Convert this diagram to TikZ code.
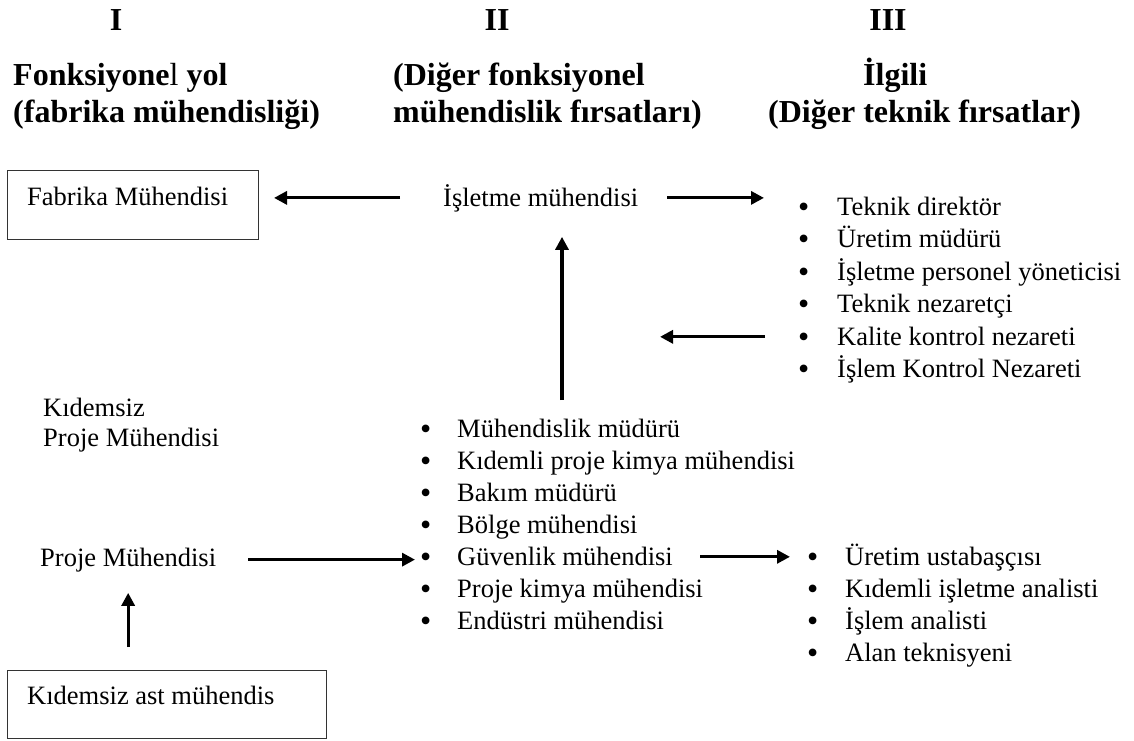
\documentclass[tikz,border=0pt]{standalone}
\usepackage{fontspec}
\setmainfont{Liberation Serif}
\usetikzlibrary{arrows.meta}
% bullet of a given box width, a little larger than the text bullet
\newcommand{\blt}[1]{\makebox[#1][l]{\raisebox{-2pt}{\fontsize{32}{32}\selectfont •}}}
\begin{document}
\begin{tikzpicture}[x=1pt,y=-1pt,
  hdr/.style={font=\fontsize{32}{37}\selectfont\bfseries, inner sep=0pt, anchor=base west},
  txt/.style={font=\fontsize{26.5}{30}\selectfont, inner sep=0pt, anchor=base west},
  frame/.style={draw=black!80, line width=1pt, inner sep=0pt, anchor=north west},
  arr/.style={-{Triangle[length=13pt,width=13pt]}, line width=3.2pt},
]
\useasboundingbox (0,0) rectangle (1134,740);

% column numerals
\node[hdr, anchor=base] (n1) at (116,30) {I};
\node[hdr, anchor=base] (n2) at (497,30) {II};
\node[hdr, anchor=base] (n3) at (888,30) {III};

% column headings
\node[hdr] (h1a) at (13,85) {Fonksiyone{\mdseries l} yol};
\node[hdr] (h1b) at (13,122) {(fabrika mühendisliği)};
\node[hdr] (h2a) at (393,85) {(Diğer fonksiyonel};
\node[hdr] (h2b) at (393,122) {mühendislik fırsatları)};
\node[hdr] (h3a) at (863,85) {İlgili};
\node[hdr] (h3b) at (768,122) {(Diğer teknik fırsatlar)};

% column I
\node[frame, minimum width=251pt, minimum height=69pt] (fab) at (7,170) {};
\node[txt] (fabt) at (27,205) {Fabrika Mühendisi};
\node[txt] (kp1) at (43,416) {Kıdemsiz};
\node[txt] (kp2) at (43,446) {Proje Mühendisi};
\node[txt] (pm) at (40,566) {Proje Mühendisi};
\node[frame, minimum width=319pt, minimum height=68pt] (ast) at (7,670) {};
\node[txt] (astt) at (27,704) {Kıdemsiz ast mühendis};

% column II
\node[txt] (isl) at (443,206) {İşletme mühendisi};
\node[txt] (m1) at (420,437) {\blt{37pt}Mühendislik müdürü};
\node[txt] (m2) at (420,469) {\blt{37pt}Kıdemli proje kimya mühendisi};
\node[txt] (m3) at (420,501) {\blt{37pt}Bakım müdürü};
\node[txt] (m4) at (420,533) {\blt{37pt}Bölge mühendisi};
\node[txt] (m5) at (420,565) {\blt{37pt}Güvenlik mühendisi};
\node[txt] (m6) at (420,597) {\blt{37pt}Proje kimya mühendisi};
\node[txt] (m7) at (420,629) {\blt{37pt}Endüstri mühendisi};

% column III
\node[txt] (t1) at (798,215) {\blt{39pt}Teknik direktör};
\node[txt] (t2) at (798,247.5) {\blt{39pt}Üretim müdürü};
\node[txt] (t3) at (798,280) {\blt{39pt}İşletme personel yöneticisi};
\node[txt] (t4) at (798,312.5) {\blt{39pt}Teknik nezaretçi};
\node[txt] (t5) at (798,345) {\blt{39pt}Kalite kontrol nezareti};
\node[txt] (t6) at (798,377.5) {\blt{39pt}İşlem Kontrol Nezareti};
\node[txt] (u1) at (807,565) {\blt{38pt}Üretim ustabaşçısı};
\node[txt] (u2) at (807,597) {\blt{38pt}Kıdemli işletme analisti};
\node[txt] (u3) at (807,629) {\blt{38pt}İşlem analisti};
\node[txt] (u4) at (807,661) {\blt{38pt}Alan teknisyeni};

% arrows
\coordinate (vb) at (562,400);
\draw[arr, shorten <=43pt, shorten >=15pt] (isl.west) -- (isl.west -| fab.east);
\draw[arr, shorten <=29pt, shorten >=34pt] (isl.east) -- (isl.east -| t1.west);
\draw[arr, shorten >=25pt] (vb) -- (vb |- isl.south);
\draw[arr, shorten <=33pt, shorten >=98pt] (t5.west) -- (t5.west -| vb);
\draw[arr, shorten <=32pt, shorten >=5pt] (pm.east) -- (pm.east -| m5.west);
\draw[arr, shorten <=27pt, shorten >=17pt] (m5.east) -- (m5.east -| u1.west);
\draw[arr, shorten <=23pt, shorten >=21pt] (ast.north -| pm.south) -- (pm.south);
\end{tikzpicture}
\end{document}
